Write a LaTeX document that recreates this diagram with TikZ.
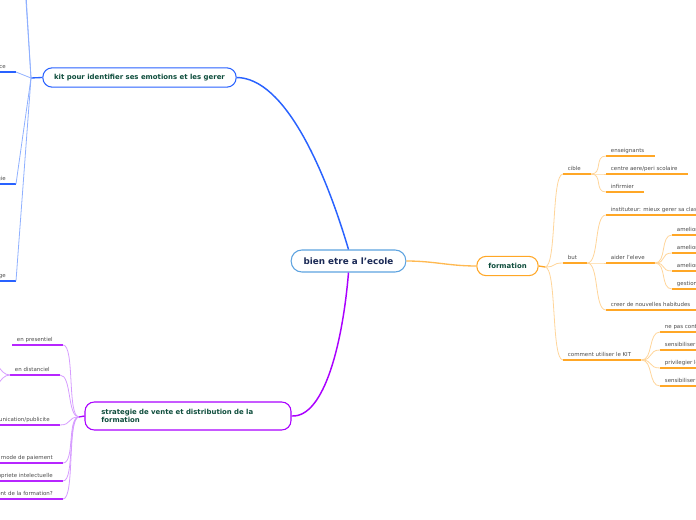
\documentclass[tikz,border=0pt]{standalone}
\usepackage{fontspec}
\setmainfont{DejaVu Sans}
\usetikzlibrary{positioning}

\definecolor{rootblue}{HTML}{5DA3E0}
\definecolor{roottext}{HTML}{1B2A56}
\definecolor{topictext}{HTML}{0E4D3C}
\definecolor{leaftext}{HTML}{4A4A4A}
\definecolor{orangedark}{HTML}{FFA726}
\definecolor{orangelight}{HTML}{FFD59A}
\definecolor{kitblue}{HTML}{2962FF}
\definecolor{kitlight}{HTML}{8FB0FF}
\definecolor{stratpurple}{HTML}{AA00FF}
\definecolor{stratlight}{HTML}{D69CFF}

\begin{document}
\begin{tikzpicture}[x=0.75pt, y=-0.75pt,
    root/.style={rectangle, draw=rootblue, line width=0.8pt, rounded corners=8pt, fill=white,
      font=\bfseries\fontsize{6.6}{7.5}\selectfont, text=roottext,
      minimum width=86pt, minimum height=16.5pt},
    topic/.style={rectangle, line width=0.8pt, rounded corners=7pt, fill=white,
      font=\bfseries\fontsize{5.2}{6.6}\selectfont, text=topictext, minimum height=14.5pt},
    leaf/.style={font=\fontsize{4.1}{4.8}\selectfont, text=leaftext, inner xsep=3.5pt,
      inner ysep=1.6pt, text height=3.1pt, text depth=0.8pt},
    oleaf/.style={leaf, anchor=south west,
      append after command={(\tikzlastnode.south west) edge[draw=orangedark, line width=1.1pt] ([xshift=4pt]\tikzlastnode.south east)}},
    bleaf/.style={leaf, anchor=south east, xshift=-4pt,
      append after command={(\tikzlastnode.south west) edge[draw=kitblue, line width=1.1pt] ([xshift=4pt]\tikzlastnode.south east)}},
    pleaf/.style={leaf, anchor=south east, xshift=-4pt,
      append after command={(\tikzlastnode.south west) edge[draw=stratpurple!85, line width=1.1pt] ([xshift=4pt]\tikzlastnode.south east)}},
    sway/.style={to path={.. controls +(12,0) and +(-12,0) .. (\tikztotarget)}},
    swayl/.style={to path={.. controls +(-12,0) and +(12,0) .. (\tikztotarget)}},
    ocurve/.style={draw=orangelight, line width=0.6pt},
    bcurve/.style={draw=kitlight, line width=0.6pt},
    pcurve/.style={draw=stratlight, line width=0.6pt}
  ]
  \useasboundingbox (0,0) rectangle (696,520);
  \clip (0,0) rectangle (696,520);

  % --- centre ---
  \node[root] (root) at (348.5,261) {bien etre a l'ecole};

  % --- formation (right) ---
  \node[topic, draw=orangedark, minimum width=46pt] (formation) at (507.5,266) {formation};
  \draw[draw=orangedark!80, line width=1pt] (root.east) to[out=0,in=180] (formation.west);
  \coordinate (fj) at (545,267);
  \draw[draw=orangedark, line width=1pt] (formation.east) -- (fj);

  \node[oleaf] (cible) at (563,174) {cible};
  \node[oleaf] (but) at (563,263) {but};
  \node[oleaf] (comment) at (563,360) {comment utiliser le KIT};
  \foreach \n in {cible,but,comment}
    \draw[ocurve] (fj) to[sway] (\n.south west);

  \node[oleaf] (enseignants) at (606,156) {enseignants};
  \node[oleaf] (centre) at (606,174) {centre aere/peri scolaire};
  \node[oleaf] (infirmier) at (606,192) {infirmier};
  \foreach \n in {enseignants,centre,infirmier}
    \draw[ocurve] ([xshift=4pt]cible.south east) to[sway] (\n.south west);

  \node[oleaf] (instit) at (606,215) {instituteur: mieux gerer sa classe};
  \node[oleaf] (aider) at (606,263) {aider l'eleve};
  \node[oleaf] (creer) at (606,310) {creer de nouvelles habitudes};
  \foreach \n in {instit,aider,creer}
    \draw[ocurve] ([xshift=4pt]but.south east) to[sway] (\n.south west);

  \node[oleaf] (amel1) at (672,235) {ameliorer sa concentration};
  \node[oleaf] (amel2) at (672,253) {ameliorer son estime de soi};
  \node[oleaf] (amel3) at (672,271) {ameliorer ses relations};
  \node[oleaf] (gestion) at (672,289) {gestion du stress};
  \foreach \n in {amel1,amel2,amel3,gestion}
    \draw[ocurve] ([xshift=4pt]aider.south east) to[sway] (\n.south west);

  \node[oleaf] (contr) at (660,332) {ne pas contraindre};
  \node[oleaf] (sensi1) at (660,350) {sensibiliser les parents};
  \node[oleaf] (privi) at (660,368) {privilegier le jeu};
  \node[oleaf] (sensi2) at (660,386) {sensibiliser les enseignants};
  \foreach \n in {contr,sensi1,privi,sensi2}
    \draw[ocurve] ([xshift=4pt]comment.south east) to[sway] (\n.south west);

  % --- kit (upper left) ---
  \node[topic, draw=kitblue, minimum width=145pt] (kit) at (139.5,77.5)
    {kit pour identifier ses emotions et les gerer};
  \draw[draw=kitblue, line width=1.1pt] (root.north) .. controls (325,170) and (285,78) .. (kit.east);
  \coordinate (kj) at (31,78);
  \draw[draw=kitblue, line width=1pt] (kit.west) -- (kj);

  \coordinate (kup1) at (22,-60);
  \coordinate (kup2) at (18,-140);
  \node[bleaf] (bienv) at (16,72) {bienveillance};
  \node[bleaf] (sophro) at (16,184) {sophrologie};
  \node[bleaf] (massage) at (16,281) {massage};
  \foreach \n in {kup1,kup2}
    \draw[bcurve] (kj) -- (\n);
  \foreach \n in {bienv,sophro,massage}
    \draw[bcurve] (kj) -- ([xshift=4pt]\n.south east);

  % --- strategie (lower left) ---
  \node[topic, draw=stratpurple, minimum width=154.5pt, minimum height=21pt,
    text width=130pt, align=left] (strat) at (188,416)
    {strategie de vente et distribution de la\\formation};
  \draw[draw=stratpurple, line width=1.1pt] (root.south) .. controls (343,340) and (325,418) .. (strat.east);
  \coordinate (sj) at (79,417);
  \draw[draw=stratpurple, line width=1pt] (strat.west) -- (sj);

  \node[pleaf] (present) at (63,345) {en presentiel};
  \node[pleaf] (distan) at (60,375) {en distanciel};
  \node[pleaf] (commu) at (60,425) {communication/publicite};
  \node[pleaf] (paiement) at (63,463) {choix d'un mode de paiement};
  \node[pleaf] (propri) at (63,481) {propriete intelectuelle};
  \node[pleaf] (finance) at (63,499) {financement de la formation?};
  \foreach \n in {present,distan,commu,paiement,propri,finance}
    \draw[pcurve] (sj) to[swayl] ([xshift=4pt]\n.south east);

  \coordinate (dist1) at (-15,355);
  \coordinate (dist2) at (-15,395);
  \foreach \n in {dist1,dist2}
    \draw[pcurve] (distan.south west) to[swayl] (\n);
\end{tikzpicture}
\end{document}
